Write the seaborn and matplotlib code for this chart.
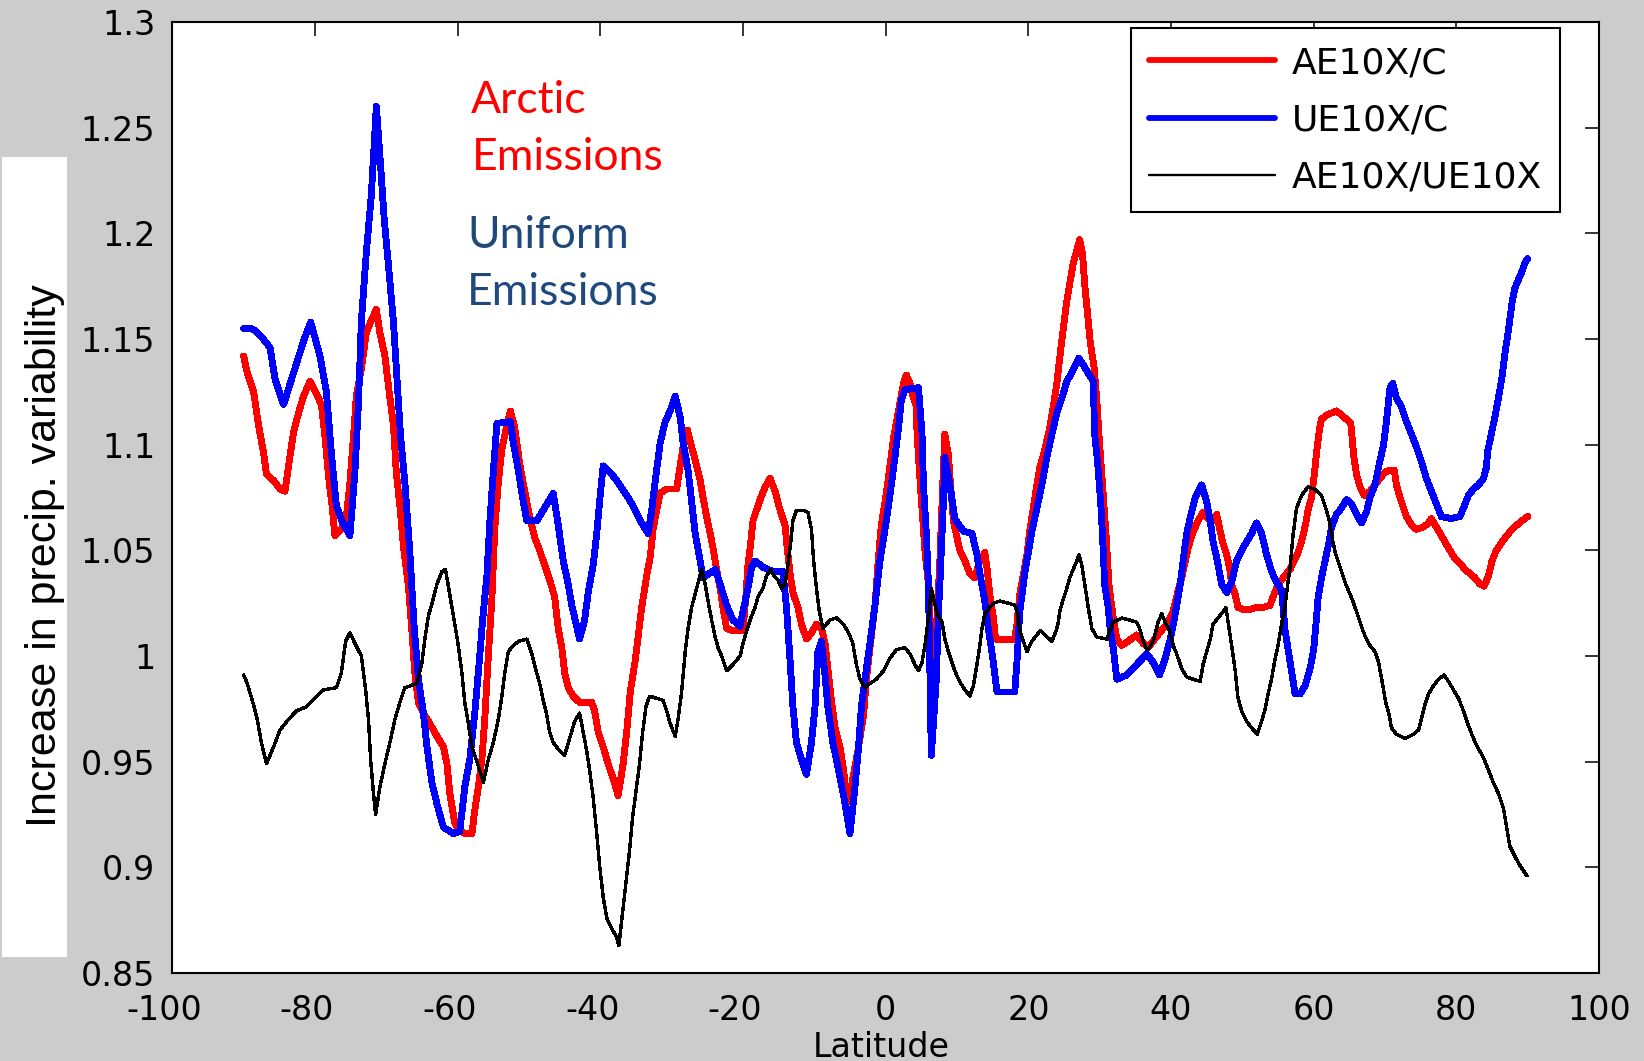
import matplotlib
matplotlib.use("Agg")
import matplotlib.pyplot as plt
import pandas as pd
import seaborn as sns
from matplotlib.patches import Rectangle
from matplotlib.transforms import ScaledTranslation

# (latitude, ratio) samples for each experiment ratio
ae_c_points = [
    (-90.0, 1.142), (-89.5, 1.134), (-88.6, 1.125), (-87.9, 1.109), (-87.2, 1.096), (-86.8, 1.086),
    (-85.8, 1.083), (-84.9, 1.079), (-84.2, 1.078), (-83.7, 1.090), (-83.0, 1.106), (-82.3, 1.115),
    (-81.6, 1.123), (-80.7, 1.130), (-79.8, 1.124), (-79.1, 1.119), (-78.6, 1.104), (-78.1, 1.085),
    (-77.6, 1.071), (-77.2, 1.057), (-76.3, 1.060), (-75.6, 1.066), (-75.1, 1.082), (-74.6, 1.104),
    (-74.2, 1.123), (-73.5, 1.136), (-72.8, 1.153), (-72.2, 1.158), (-71.4, 1.164), (-70.9, 1.153),
    (-70.2, 1.142), (-69.6, 1.125), (-69.0, 1.109), (-68.6, 1.087), (-68.1, 1.071), (-67.6, 1.052),
    (-66.9, 1.033), (-66.4, 1.011), (-66.0, 0.992), (-65.5, 0.978), (-64.8, 0.973), (-63.9, 0.968),
    (-62.9, 0.962), (-62.0, 0.957), (-61.5, 0.949), (-61.1, 0.935), (-60.4, 0.921), (-59.9, 0.918),
    (-59.0, 0.916), (-58.0, 0.916), (-57.6, 0.927), (-57.1, 0.938), (-56.6, 0.951), (-56.2, 0.970),
    (-55.7, 1.000), (-55.2, 1.027), (-54.8, 1.060), (-54.3, 1.082), (-53.8, 1.098), (-53.1, 1.109),
    (-52.6, 1.116), (-52.0, 1.108), (-51.3, 1.091), (-50.6, 1.078), (-49.9, 1.066), (-49.2, 1.056),
    (-48.5, 1.050), (-47.8, 1.043), (-47.1, 1.036), (-46.4, 1.028), (-45.9, 1.013), (-45.4, 1.004),
    (-45.0, 0.992), (-44.5, 0.985), (-43.8, 0.981), (-42.9, 0.978), (-41.2, 0.978), (-40.8, 0.974),
    (-40.3, 0.964), (-39.6, 0.957), (-38.9, 0.949), (-38.2, 0.942), (-37.5, 0.934), (-36.8, 0.949),
    (-36.3, 0.964), (-35.8, 0.983), (-35.1, 0.998), (-34.7, 1.009), (-34.2, 1.023), (-33.5, 1.038),
    (-33.0, 1.047), (-32.6, 1.060), (-32.1, 1.069), (-31.6, 1.077), (-30.7, 1.079), (-29.3, 1.079),
    (-28.8, 1.090), (-28.4, 1.099), (-27.8, 1.107), (-27.2, 1.099), (-26.5, 1.090), (-26.0, 1.083),
    (-25.6, 1.075), (-25.1, 1.066), (-24.6, 1.058), (-24.2, 1.051), (-23.7, 1.041), (-23.2, 1.032),
    (-22.8, 1.023), (-22.3, 1.013), (-21.4, 1.012), (-20.0, 1.012), (-19.6, 1.028), (-19.3, 1.043),
    (-18.9, 1.054), (-18.6, 1.064), (-18.1, 1.069), (-17.6, 1.074), (-16.9, 1.080), (-16.2, 1.084),
    (-15.5, 1.078), (-14.8, 1.069), (-14.1, 1.062), (-13.8, 1.051), (-13.4, 1.039), (-13.0, 1.030),
    (-12.3, 1.023), (-11.8, 1.015), (-11.1, 1.008), (-10.4, 1.011), (-9.7, 1.015), (-9.0, 1.013),
    (-8.5, 1.006), (-8.1, 0.994), (-7.6, 0.979), (-7.1, 0.966), (-6.4, 0.957), (-5.9, 0.946),
    (-5.5, 0.934), (-5.1, 0.931), (-4.6, 0.942), (-3.8, 0.957), (-3.1, 0.972), (-2.7, 0.989),
    (-2.2, 1.004), (-1.5, 1.024), (-1.0, 1.047), (-0.6, 1.062), (0.1, 1.077), (0.6, 1.090),
    (1.1, 1.103), (1.8, 1.116), (2.5, 1.129), (2.9, 1.133), (3.4, 1.129), (3.9, 1.122),
    (4.3, 1.118), (4.4, 1.105), (4.8, 1.084), (5.2, 1.065), (5.5, 1.050), (6.0, 1.034),
    (6.5, 0.998), (7.2, 1.018), (7.6, 1.045), (8.0, 1.081), (8.3, 1.105), (8.8, 1.095),
    (9.1, 1.081), (9.5, 1.064), (10.0, 1.056), (10.4, 1.050), (11.1, 1.045), (11.8, 1.039),
    (12.5, 1.037), (13.2, 1.045), (13.9, 1.049), (14.2, 1.042), (14.6, 1.029), (15.1, 1.018),
    (15.4, 1.008), (18.1, 1.008), (18.4, 1.015), (18.8, 1.029), (19.8, 1.048), (20.2, 1.059),
    (20.7, 1.070), (21.2, 1.081), (21.6, 1.089), (22.1, 1.095), (22.6, 1.102), (23.0, 1.108),
    (23.5, 1.118), (24.0, 1.129), (24.4, 1.141), (24.9, 1.155), (25.4, 1.168), (25.8, 1.176),
    (26.3, 1.186), (26.8, 1.192), (27.2, 1.197), (27.6, 1.190), (27.9, 1.176), (28.3, 1.162),
    (28.7, 1.148), (29.2, 1.137), (29.6, 1.121), (29.9, 1.105), (30.4, 1.081), (30.9, 1.057),
    (31.3, 1.034), (31.9, 1.018), (32.4, 1.008), (33.1, 1.005), (34.0, 1.007), (35.2, 1.010),
    (36.1, 1.006), (36.8, 1.004), (37.5, 1.007), (38.4, 1.011), (39.4, 1.015), (40.2, 1.020),
    (41.0, 1.031), (41.5, 1.037), (42.0, 1.045), (42.4, 1.051), (42.9, 1.057), (43.4, 1.061),
    (43.8, 1.064), (44.5, 1.068), (45.2, 1.065), (45.9, 1.064), (46.4, 1.067), (46.9, 1.059),
    (47.3, 1.053), (47.8, 1.048), (48.2, 1.042), (48.5, 1.034), (49.0, 1.029), (49.4, 1.023),
    (50.1, 1.022), (51.0, 1.022), (52.0, 1.023), (52.9, 1.023), (53.9, 1.024), (54.3, 1.028),
    (54.8, 1.032), (55.3, 1.035), (55.7, 1.037), (56.2, 1.039), (56.7, 1.041), (57.1, 1.044),
    (57.7, 1.048), (58.2, 1.053), (58.6, 1.058), (58.9, 1.063), (59.2, 1.069), (59.7, 1.075),
    (60.1, 1.086), (60.4, 1.096), (60.8, 1.107), (61.1, 1.112), (61.8, 1.114), (62.5, 1.115),
    (63.2, 1.116), (63.9, 1.114), (64.6, 1.112), (65.2, 1.110), (65.4, 1.103), (65.6, 1.095),
    (66.0, 1.086), (66.5, 1.080), (67.1, 1.076), (67.9, 1.078), (68.6, 1.081), (69.3, 1.084),
    (70.0, 1.087), (70.7, 1.088), (71.3, 1.088), (71.6, 1.081), (72.1, 1.075), (72.6, 1.070),
    (73.0, 1.066), (73.7, 1.062), (74.4, 1.060), (75.4, 1.061), (76.1, 1.063), (76.5, 1.065),
    (77.2, 1.061), (77.9, 1.057), (78.4, 1.054), (79.1, 1.050), (79.8, 1.046), (80.5, 1.044),
    (81.2, 1.041), (81.9, 1.039), (82.6, 1.037), (83.3, 1.034), (83.9, 1.033), (84.5, 1.038),
    (85.0, 1.045), (85.6, 1.050), (86.4, 1.054), (87.1, 1.057), (87.8, 1.060), (88.5, 1.062),
    (89.2, 1.064), (90.0, 1.066),
]

ue_c_points = [
    (-90.0, 1.155), (-89.0, 1.155), (-88.4, 1.154), (-87.5, 1.151), (-86.3, 1.146), (-85.6, 1.131),
    (-84.4, 1.119), (-83.0, 1.134), (-81.6, 1.149), (-80.6, 1.158), (-79.3, 1.142), (-78.4, 1.125),
    (-77.7, 1.096), (-77.0, 1.071), (-76.1, 1.063), (-75.1, 1.057), (-74.4, 1.087), (-73.9, 1.120),
    (-73.5, 1.158), (-72.8, 1.191), (-72.1, 1.218), (-71.4, 1.260), (-70.9, 1.237), (-70.3, 1.207),
    (-69.7, 1.185), (-69.0, 1.158), (-68.5, 1.131), (-68.0, 1.104), (-67.4, 1.082), (-66.7, 1.049),
    (-66.1, 1.014), (-65.5, 0.989), (-64.8, 0.973), (-64.3, 0.957), (-63.6, 0.940), (-62.9, 0.930),
    (-62.0, 0.919), (-60.6, 0.916), (-59.7, 0.917), (-59.0, 0.938), (-58.3, 0.951), (-57.6, 0.973),
    (-56.9, 1.000), (-56.5, 1.017), (-55.9, 1.038), (-55.5, 1.063), (-55.0, 1.087), (-54.5, 1.110),
    (-52.6, 1.111), (-52.2, 1.101), (-51.5, 1.088), (-50.9, 1.075), (-50.3, 1.064), (-48.9, 1.064),
    (-48.0, 1.069), (-46.6, 1.077), (-45.9, 1.062), (-45.2, 1.045), (-44.5, 1.034), (-44.0, 1.024),
    (-42.9, 1.008), (-42.2, 1.017), (-41.7, 1.030), (-41.0, 1.043), (-40.5, 1.058), (-40.1, 1.073),
    (-39.6, 1.090), (-38.4, 1.086), (-37.7, 1.083), (-36.5, 1.077), (-35.4, 1.071), (-34.4, 1.064),
    (-33.3, 1.058), (-32.8, 1.069), (-32.1, 1.088), (-31.6, 1.101), (-30.9, 1.111), (-30.2, 1.116),
    (-29.5, 1.123), (-28.8, 1.113), (-28.4, 1.101), (-27.7, 1.088), (-27.2, 1.073), (-26.7, 1.058),
    (-26.0, 1.045), (-25.6, 1.037), (-23.9, 1.041), (-23.2, 1.034), (-22.3, 1.024), (-21.4, 1.017),
    (-20.4, 1.014), (-20.0, 1.021), (-19.3, 1.032), (-18.8, 1.042), (-18.3, 1.045), (-17.2, 1.042),
    (-15.8, 1.040), (-14.4, 1.040), (-13.9, 1.023), (-13.4, 0.998), (-13.0, 0.976), (-12.5, 0.959),
    (-11.8, 0.951), (-11.1, 0.944), (-10.4, 0.959), (-9.9, 0.976), (-9.5, 1.002), (-9.0, 1.007),
    (-8.5, 0.991), (-8.1, 0.976), (-7.4, 0.959), (-6.6, 0.946), (-5.9, 0.934), (-5.0, 0.916),
    (-4.3, 0.938), (-3.8, 0.957), (-3.4, 0.976), (-2.9, 0.989), (-2.2, 1.006), (-1.5, 1.024),
    (-0.8, 1.045), (0.1, 1.064), (0.8, 1.081), (1.3, 1.094), (1.8, 1.108), (2.2, 1.121),
    (2.7, 1.126), (4.6, 1.127), (5.1, 1.105), (5.3, 1.081), (5.7, 1.058), (6.0, 1.034),
    (6.4, 0.953), (7.1, 0.989), (7.4, 1.021), (7.6, 1.034), (8.1, 1.073), (8.3, 1.094),
    (9.0, 1.081), (9.7, 1.065), (10.9, 1.059), (12.1, 1.058), (12.8, 1.048), (13.2, 1.039),
    (13.9, 1.026), (14.4, 1.013), (15.1, 0.997), (15.6, 0.983), (18.1, 0.983), (18.4, 0.997),
    (18.8, 1.021), (19.5, 1.039), (20.5, 1.059), (21.2, 1.070), (21.9, 1.081), (22.6, 1.094),
    (23.3, 1.105), (24.0, 1.115), (24.7, 1.122), (25.4, 1.130), (26.1, 1.134), (27.1, 1.141),
    (28.2, 1.135), (29.1, 1.130), (29.3, 1.105), (29.7, 1.092), (30.2, 1.070), (30.5, 1.050),
    (30.7, 1.034), (31.2, 1.023), (31.5, 1.012), (31.9, 1.004), (32.4, 0.989), (33.8, 0.991),
    (35.2, 0.996), (36.6, 1.001), (37.5, 0.997), (38.4, 0.991), (39.2, 0.999), (39.9, 1.008),
    (40.6, 1.020), (41.3, 1.034), (41.7, 1.045), (42.2, 1.058), (42.8, 1.067), (43.4, 1.075),
    (44.3, 1.081), (45.0, 1.073), (45.5, 1.064), (45.9, 1.054), (46.5, 1.045), (47.1, 1.034),
    (47.8, 1.030), (48.5, 1.035), (49.2, 1.045), (49.9, 1.050), (50.6, 1.054), (51.3, 1.058),
    (52.0, 1.063), (52.7, 1.058), (53.4, 1.048), (54.1, 1.040), (54.8, 1.035), (55.5, 1.031),
    (56.0, 1.012), (56.7, 0.997), (57.4, 0.982), (58.1, 0.982), (58.8, 0.986), (59.5, 0.994),
    (60.0, 1.003), (60.4, 1.018), (60.6, 1.027), (61.1, 1.037), (61.6, 1.045), (62.1, 1.053),
    (62.5, 1.061), (63.2, 1.067), (63.9, 1.070), (64.6, 1.074), (65.3, 1.072), (66.0, 1.067),
    (66.7, 1.063), (67.4, 1.068), (67.9, 1.075), (68.6, 1.081), (69.2, 1.091), (69.8, 1.100),
    (70.2, 1.111), (70.7, 1.127), (71.1, 1.129), (71.6, 1.122), (72.3, 1.118), (73.0, 1.111),
    (73.7, 1.105), (74.4, 1.099), (75.1, 1.092), (75.8, 1.084), (76.5, 1.078), (77.2, 1.072),
    (77.9, 1.066), (79.3, 1.065), (80.5, 1.066), (81.0, 1.070), (81.7, 1.076), (82.4, 1.079),
    (83.1, 1.081), (83.8, 1.084), (84.2, 1.089), (84.4, 1.097), (84.9, 1.105), (85.4, 1.113),
    (85.9, 1.122), (86.4, 1.132), (86.8, 1.143), (87.3, 1.154), (87.8, 1.167), (88.2, 1.174),
    (88.7, 1.178), (89.2, 1.182), (89.6, 1.186), (90.0, 1.188),
]

ae_ue_points = [
    (-90.0, 0.991), (-89.5, 0.987), (-88.7, 0.978), (-88.1, 0.970), (-87.5, 0.959), (-86.8, 0.949),
    (-85.8, 0.957), (-84.9, 0.965), (-83.7, 0.970), (-82.6, 0.974), (-81.2, 0.976), (-80.0, 0.980),
    (-78.8, 0.984), (-77.0, 0.985), (-76.3, 0.992), (-75.7, 1.007), (-75.1, 1.011), (-74.4, 1.006),
    (-73.5, 1.000), (-72.9, 0.984), (-72.5, 0.970), (-72.2, 0.951), (-71.8, 0.935), (-71.5, 0.925),
    (-70.9, 0.938), (-70.2, 0.949), (-69.5, 0.959), (-68.8, 0.970), (-68.1, 0.978), (-67.4, 0.985),
    (-65.7, 0.987), (-65.0, 0.997), (-64.6, 1.008), (-64.1, 1.019), (-63.5, 1.026), (-62.9, 1.034),
    (-62.2, 1.040), (-61.7, 1.041), (-61.3, 1.033), (-60.6, 1.019), (-60.0, 1.007), (-59.4, 0.992),
    (-59.0, 0.978), (-58.5, 0.968), (-58.0, 0.957), (-57.4, 0.951), (-56.9, 0.946), (-56.4, 0.940),
    (-55.7, 0.951), (-55.0, 0.959), (-54.3, 0.970), (-53.8, 0.981), (-53.4, 0.992), (-52.9, 1.002),
    (-52.2, 1.005), (-51.4, 1.007), (-50.3, 1.008), (-49.6, 1.001), (-49.0, 0.993), (-48.5, 0.987),
    (-48.0, 0.979), (-47.5, 0.972), (-47.1, 0.964), (-46.6, 0.959), (-45.9, 0.956), (-45.0, 0.953),
    (-44.3, 0.961), (-43.6, 0.969), (-42.9, 0.973), (-42.4, 0.964), (-41.9, 0.955), (-41.5, 0.946),
    (-41.0, 0.933), (-40.5, 0.916), (-40.1, 0.901), (-39.6, 0.886), (-39.1, 0.876), (-38.4, 0.871),
    (-37.7, 0.867), (-37.4, 0.863), (-36.9, 0.878), (-36.4, 0.893), (-35.9, 0.908), (-35.5, 0.923),
    (-35.0, 0.936), (-34.5, 0.949), (-34.1, 0.963), (-33.6, 0.976), (-33.1, 0.981), (-32.1, 0.980),
    (-31.2, 0.979), (-30.7, 0.974), (-30.2, 0.968), (-29.5, 0.962), (-29.1, 0.970), (-28.6, 0.983),
    (-28.1, 1.002), (-27.7, 1.013), (-27.2, 1.023), (-26.5, 1.032), (-25.8, 1.041), (-25.3, 1.034),
    (-24.9, 1.026), (-24.4, 1.017), (-23.9, 1.009), (-23.5, 1.004), (-23.0, 1.000), (-22.3, 0.993),
    (-21.4, 0.996), (-20.4, 1.000), (-20.0, 1.006), (-19.4, 1.013), (-18.8, 1.019), (-18.3, 1.023),
    (-17.9, 1.028), (-17.2, 1.032), (-16.7, 1.038), (-16.1, 1.041), (-15.7, 1.038), (-15.1, 1.036),
    (-14.6, 1.032), (-14.1, 1.034), (-13.7, 1.043), (-13.3, 1.054), (-13.0, 1.064), (-12.5, 1.069),
    (-11.6, 1.069), (-10.9, 1.068), (-10.4, 1.060), (-10.1, 1.045), (-9.7, 1.032), (-9.3, 1.021),
    (-8.8, 1.013), (-7.8, 1.017), (-6.9, 1.018), (-5.9, 1.015), (-5.2, 1.011), (-4.6, 1.006),
    (-4.1, 0.996), (-3.6, 0.989), (-2.9, 0.985), (-2.2, 0.987), (-1.3, 0.989), (-0.3, 0.993),
    (0.6, 0.999), (1.5, 1.003), (2.7, 1.004), (3.4, 1.001), (4.1, 0.996), (4.6, 0.993),
    (5.1, 0.997), (5.5, 1.005), (6.0, 1.018), (6.4, 1.032), (7.2, 1.020), (7.9, 1.016),
    (8.3, 1.008), (8.8, 1.002), (9.3, 0.997), (9.7, 0.993), (10.2, 0.989), (10.9, 0.985),
    (11.8, 0.981), (12.3, 0.986), (12.8, 0.996), (13.2, 1.005), (13.5, 1.013), (13.9, 1.020),
    (14.6, 1.023), (15.1, 1.025), (16.0, 1.026), (17.2, 1.025), (18.1, 1.024), (18.5, 1.020),
    (18.8, 1.012), (19.3, 1.007), (19.8, 1.002), (20.5, 1.007), (21.2, 1.010), (21.7, 1.012),
    (22.3, 1.010), (23.3, 1.007), (23.9, 1.012), (24.2, 1.016), (24.4, 1.021), (24.9, 1.027),
    (25.4, 1.032), (25.8, 1.037), (26.3, 1.041), (26.8, 1.045), (27.1, 1.048), (27.5, 1.043),
    (27.9, 1.034), (28.4, 1.023), (28.9, 1.013), (29.6, 1.009), (31.0, 1.008), (31.9, 1.016),
    (33.1, 1.018), (34.2, 1.017), (35.2, 1.016), (35.6, 1.013), (36.1, 1.007), (36.6, 1.003),
    (37.0, 1.004), (37.6, 1.008), (38.2, 1.016), (38.7, 1.020), (39.2, 1.016), (39.9, 1.011),
    (40.3, 1.005), (40.8, 1.001), (41.5, 0.994), (42.2, 0.990), (43.1, 0.989), (44.1, 0.988),
    (44.5, 0.996), (45.0, 1.002), (45.5, 1.008), (45.9, 1.015), (46.6, 1.018), (47.3, 1.021),
    (47.7, 1.023), (48.5, 1.005), (49.0, 0.993), (49.4, 0.980), (49.9, 0.974), (50.6, 0.969),
    (51.3, 0.966), (52.1, 0.963), (52.7, 0.969), (53.2, 0.975), (53.6, 0.982), (54.1, 0.989),
    (54.5, 0.997), (55.0, 1.005), (55.5, 1.015), (56.0, 1.024), (56.4, 1.035), (56.7, 1.042),
    (57.1, 1.057), (57.6, 1.070), (58.3, 1.076), (59.2, 1.080), (60.1, 1.079), (61.1, 1.076),
    (61.7, 1.070), (62.2, 1.064), (62.7, 1.054), (63.1, 1.048), (63.6, 1.043), (64.1, 1.038),
    (64.5, 1.034), (65.0, 1.030), (65.5, 1.026), (65.9, 1.022), (66.4, 1.017), (66.9, 1.012),
    (67.4, 1.008), (67.9, 1.005), (68.6, 1.002), (69.1, 0.997), (69.7, 0.986), (70.1, 0.978),
    (70.6, 0.972), (70.9, 0.966), (71.6, 0.963), (72.8, 0.961), (74.0, 0.963), (74.7, 0.965),
    (75.1, 0.970), (75.6, 0.977), (76.1, 0.982), (76.8, 0.986), (77.5, 0.989), (78.3, 0.991),
    (78.9, 0.988), (79.6, 0.984), (80.3, 0.980), (81.0, 0.974), (81.7, 0.967), (82.4, 0.961),
    (83.1, 0.956), (83.8, 0.952), (84.5, 0.946), (85.2, 0.940), (85.9, 0.935), (86.6, 0.928),
    (87.1, 0.918), (87.5, 0.910), (88.1, 0.906), (88.7, 0.902), (89.3, 0.899), (89.9, 0.896),
]

series_names = ["AE10X/C", "UE10X/C", "AE10X/UE10X"]
series_colors = ["#ff0000", "#0000ff", "#000000"]
series_widths = [4.2, 4.2, 1.7]

x_ticks = [-100, -80, -60, -40, -20, 0, 20, 40, 60, 80, 100]
x_tick_labels = ["-100", "-80", "-60", "-40", "-20", "0", "20", "40", "60", "80", "100"]
y_ticks = [0.85, 0.9, 0.95, 1.0, 1.05, 1.1, 1.15, 1.2, 1.25, 1.3]
y_tick_labels = ["0.85", "0.9", "0.95", "1", "1.05", "1.1", "1.15", "1.2", "1.25", "1.3"]

x_label = "Latitude"
y_label = "Increase in precip. variability"
arctic_note = ["Arctic", "Emissions"]
uniform_note = ["Uniform", "Emissions"]

frames = []
for name, pts in zip(series_names, [ae_c_points, ue_c_points, ae_ue_points]):
    frames.append(pd.DataFrame({"lat": [p[0] for p in pts],
                                "ratio": [p[1] for p in pts],
                                "series": name}))
data = pd.concat(frames, ignore_index=True)

sns.set_theme(style="white")
plt.rcParams["font.family"] = ["DejaVu Sans"]
plt.rcParams["axes.unicode_minus"] = False

W, H = 1644, 1061
fig = plt.figure(figsize=(W / 100, H / 100), dpi=100, facecolor="#cccccc")

ax_left, ax_right, ax_top, ax_bottom = 172.3, 1599.0, 22.0, 973.0
ax = fig.add_axes([ax_left / W, 1 - ax_bottom / H,
                   (ax_right - ax_left) / W, (ax_bottom - ax_top) / H])
ax.set_facecolor("white")

# white panel behind the y-axis title
fig.add_artist(Rectangle((2 / W, 1 - 957 / H), 64.7 / W, 800 / H,
                         transform=fig.transFigure, facecolor="white",
                         edgecolor="none", zorder=-1))

for name, color, lw in zip(series_names, series_colors, series_widths):
    sub = data[data["series"] == name]
    sns.lineplot(data=sub, x="lat", y="ratio", ax=ax, color=color, lw=lw,
                 label=name, estimator=None, sort=False, antialiased=False)

ax.set_xlim(-100, 100)
ax.set_ylim(0.85, 1.3)
ax.set_xticks(x_ticks)
ax.set_xticklabels(x_tick_labels)
ax.set_yticks(y_ticks)
ax.set_yticklabels(y_tick_labels)

for side in ["left", "right", "top", "bottom"]:
    ax.spines[side].set_visible(True)
    ax.spines[side].set_color("black")
    ax.spines[side].set_linewidth(1.5)

ax.tick_params(axis="both", which="major", direction="in", length=10, width=1.1,
               color="black", top=True, right=True, labelsize=24, labelcolor="black")
ax.tick_params(axis="y", pad=12.2)
ax.tick_params(axis="x", pad=15)

# negative labels hang their minus sign to the left of the digits
for lab in ax.get_xticklabels():
    if lab.get_text().startswith("-"):
        lab.set_transform(lab.get_transform() +
                          ScaledTranslation(-8 / 100, 0, fig.dpi_scale_trans))

ax.set_xlabel(x_label, fontsize=24, color="black")
ax.xaxis.set_label_coords(0.497, -(1057 - ax_bottom) / (ax_bottom - ax_top))
ax.xaxis.label.set_va("baseline")

ax.set_ylabel(y_label, fontsize=31, color="black",
              family=["Liberation Sans", "DejaVu Sans"])
ax.yaxis.set_label_coords((45 - ax_left) / (ax_right - ax_left),
                          1 - (555.5 - ax_top) / (ax_bottom - ax_top))
ax.yaxis.label.set_va("center")
ax.yaxis.label.set_ha("center")

leg = ax.legend(loc="upper left",
                bbox_to_anchor=((1131 - ax_left) / (ax_right - ax_left),
                                1 - (28 - ax_top) / (ax_bottom - ax_top)),
                borderaxespad=0, fontsize=26, handlelength=3.5, handletextpad=0.45,
                borderpad=0.5, labelspacing=0.64, frameon=True, fancybox=False,
                framealpha=1, shadow=False)
leg.get_frame().set_edgecolor("black")
leg.get_frame().set_linewidth(1.5)
leg.get_frame().set_facecolor("white")
for t in leg.get_texts():
    t.set_color("black")

note_font = ["Lato", "DejaVu Sans"]
fig.text(471 / W, 1 - 113 / H, arctic_note[0], fontsize=32, color="#ff0000",
         family=note_font, ha="left", va="baseline")
fig.text(472 / W, 1 - 170 / H, arctic_note[1], fontsize=32, color="#ff0000",
         family=note_font, ha="left", va="baseline")
fig.text(467 / W, 1 - 248 / H, uniform_note[0], fontsize=32, color="#1f497d",
         family=note_font, ha="left", va="baseline")
fig.text(467 / W, 1 - 305 / H, uniform_note[1], fontsize=32, color="#1f497d",
         family=note_font, ha="left", va="baseline")

fig.savefig("out.png", dpi=100, facecolor=fig.get_facecolor())
